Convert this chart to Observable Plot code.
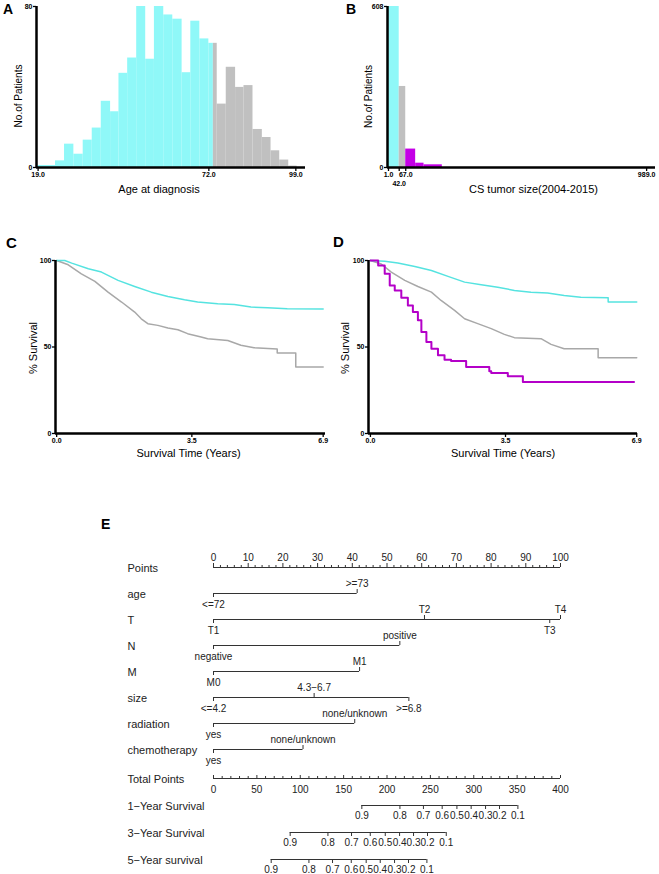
<!DOCTYPE html>
<html>
<head>
<meta charset="utf-8">
<script src="https://cdn.jsdelivr.net/npm/d3@7"></script>
<script src="https://cdn.jsdelivr.net/npm/@observablehq/plot@0.6"></script>
<style>
  body { margin: 0; background: #fff; }
  #root { position: relative; width: 659px; height: 874px; overflow: hidden; background: #fff; }
  .panel { position: absolute; }
  svg { overflow: visible; }
</style>
</head>
<body>
<div id="root"></div>
<script>
// ---------------- DATA ----------------
// Panel A: age histogram (bin edges in years, counts)
const ageEdges = [19, 24.4, 27.2, 30.1, 33.0, 35.8, 38.6, 41.5, 44.1, 46.8, 49.6, 52.4, 55.1, 58.0, 60.8, 63.7, 66.4, 69.2, 72.0, 74.6, 77.4, 80.3, 82.9, 85.7, 88.6, 91.3, 94.0, 96.8, 99.4];
const ageCounts = [1, 3.3, 11.6, 6.6, 13.6, 19.6, 32.9, 27.7, 46.8, 54.4, 86, 53.8, 86, 75.8, 73.7, 47.1, 72.7, 63.9, 61.7, 31.5, 49.8, 39.8, 40.7, 18.9, 14.9, 8.3, 3.7, 0.7];
const ageCut = 73.4;
const ageTicks = [19, 72, 99];
const ageYTicks = [0, 80];

// Panel B: tumor size histogram
const sizeEdges = [1, 42, 67, 105, 137, 207];
const sizeCounts = [608, 306, 69.6, 16.3, 10.2];
const sizeGroups = ["small", "mid", "large", "large", "large"];
const sizeTicks = [1, 67, 989];
const sizeTickLow = [42];
const sizeYTicks = [0, 608];

// Panel C: survival by age group  [time (years), % survival]
const cCyan = [[0,100],[0.21,100],[0.39,98.5],[0.82,95.2],[1.16,93.3],[1.59,88.5],[2.02,85],[2.45,81.7],[2.88,79.2],[3.31,77.3],[3.65,76],[4.17,75],[4.6,74.6],[5.03,73.1],[5.46,72.7],[5.97,72.1],[6.9,71.9]];
const cGrey = [[0,100],[0.3,97.5],[0.64,92.3],[0.99,87.9],[1.33,81.7],[1.68,76],[2.02,70.2],[2.19,66.3],[2.36,63.5],[2.62,62.5],[2.88,61],[3.14,60],[3.39,57.7],[3.74,55.8],[3.91,54.8],[4.43,53.8],[4.77,51],[5.11,49.6],[5.71,48.8],[5.71,46.5],[6.19,46.5],[6.19,38.5],[6.9,38.5]];

// Panel D: survival by tumor size group
const dCyan = [[0,100],[0.37,99.6],[0.71,98.5],[1.15,96.5],[1.58,94.2],[2.01,90.8],[2.44,87.5],[2.87,86],[3.3,84.6],[3.73,82.7],[4.16,81.7],[4.59,81.2],[5.02,79.8],[5.45,78.8],[6.16,78.5],[6.16,76],[6.9,76]];
const dGrey = [[0,100],[0.28,98],[0.54,93.3],[0.89,88.5],[1.23,85],[1.58,81.7],[1.83,76.9],[2.18,71.2],[2.44,66.3],[2.78,63.5],[3.13,60.6],[3.47,57.3],[3.73,55.4],[4.42,54.8],[4.68,51.5],[5.02,49],[5.9,49],[5.9,43.8],[6.9,43.8]];
const dMagenta = [[0,100],[0.2,97.1],[0.37,92.3],[0.5,85.6],[0.63,82.7],[0.8,78.5],[0.97,74],[1.1,70.2],[1.23,65.4],[1.32,58.7],[1.45,52.9],[1.58,49],[1.75,45.2],[1.92,42.7],[2.09,41.9],[2.48,38.5],[3.08,36],[3.13,35],[3.56,33.1],[3.95,29.8],[6.83,29.8]];
const survXTicks = [0, 3.5, 6.9];
const survYTicks = [0, 50, 100];

// Panel E: nomogram
const nomoRows = ["Points", "age", "T", "N", "M", "size", "radiation", "chemotherapy"];
const varNames = ["age", "T", "N", "M", "size", "radiation", "chemotherapy"];
const varLevels = [["<=72", ">=73"], ["T1", "T2", "T3", "T4"], ["negative", "positive"], ["M0", "M1"], ["<=4.2", "4.3\u22126.7", ">=6.8"], ["yes", "none/unknown"], ["yes", "none/unknown"]];
const varPoints = [[0, 41.4], [0, 60.8, 96.9, 100], [0, 53.7], [0, 42.1], [0, 29.0, 56.3], [0, 40.7], [0, 25.8]];
const pointsMajor = [0, 10, 20, 30, 40, 50, 60, 70, 80, 90, 100];
const pointsMinor = [2,4,6,8,12,14,16,18,22,24,26,28,32,34,36,38,42,44,46,48,52,54,56,58,62,64,66,68,72,74,76,78,82,84,86,88,92,94,96,98];

const lowerRows = ["Total Points", "1\u2212Year Survival", "3\u2212Year Survival", "5\u2212Year survival"];
const totalMajor = [0, 50, 100, 150, 200, 250, 300, 350, 400];
const totalMinor = [10,20,30,40,60,70,80,90,110,120,130,140,160,170,180,190,210,220,230,240,260,270,280,290,310,320,330,340,360,370,380,390];
const survProbs = ["0.9", "0.8", "0.7", "0.6", "0.5", "0.4", "0.3", "0.2", "0.1"];
const surv1Year = [171, 214.9, 242, 263.6, 280.6, 297, 313.6, 329.7, 350.9];
const surv3Year = [88.4, 131.9, 159.1, 180.7, 198, 214.5, 230.6, 246.7, 268.3];
const surv5Year = [66.5, 110, 137.2, 158.8, 176, 192.2, 208.7, 224.8, 246];

// ---------------- STYLE ----------------
const CYAN_FILL = "#8ff8f8", GREY_FILL = "#c0c0c0", MAG_FILL = "#c400e6";
const CYAN_LINE = "#55e3e0", GREY_LINE = "#a8a8a8", MAG_LINE = "#b400c8";
const FONT = "'Liberation Sans', Arial, Helvetica, sans-serif";
const root = document.getElementById("root");

function place(node, left, top) {
  const div = document.createElement("div");
  div.className = "panel";
  div.style.left = left + "px";
  div.style.top = top + "px";
  div.appendChild(node);
  root.appendChild(div);
}

function prismAxes(xDomMin, xTicks, yTicks, xFmt) {
  return [
    Plot.ruleY([0], {strokeWidth: 2.5, stroke: "#000"}),
    Plot.ruleX([xDomMin], {strokeWidth: 2.5, stroke: "#000"}),
    Plot.axisY({ticks: yTicks, tickFormat: d => String(d), tickSize: 3, tickPadding: 1, fontSize: 7, fontWeight: "bold", strokeWidth: 1.3, label: null}),
    Plot.axisX({ticks: xTicks, tickFormat: xFmt, tickSize: 4, tickPadding: 1, fontSize: 7, fontWeight: "bold", strokeWidth: 1.3, label: null})
  ];
}

// ---------------- PANEL A ----------------
const ageRects = [];
ageCounts.forEach((n, i) => {
  const a = ageEdges[i], b = ageEdges[i + 1];
  if (a < ageCut && b > ageCut) {
    ageRects.push({x1: a, x2: ageCut, n, g: "lo"}, {x1: ageCut, x2: b, n, g: "hi"});
  } else {
    ageRects.push({x1: a, x2: b, n, g: b <= ageCut ? "lo" : "hi"});
  }
});
const A = Plot.plot({
  width: 320, height: 200, marginLeft: 36, marginRight: 15, marginTop: 6, marginBottom: 33,
  style: {fontFamily: FONT, background: "transparent", color: "#000"},
  x: {domain: [18.5, 102], axis: null},
  y: {domain: [0, 80], axis: null},
  marks: [
    Plot.rect(ageRects, {x1: "x1", x2: "x2", y1: 0, y2: "n", fill: d => d.g === "lo" ? CYAN_FILL : GREY_FILL, clip: true}),
    ...prismAxes(18.5, ageTicks, ageYTicks, d3.format(".1f")),
    Plot.text(["No.of Patients"], {frameAnchor: "left", rotate: -90, dx: -18, dy: 9, fontSize: 10, textAnchor: "middle", lineAnchor: "middle"}),
    Plot.text(["Age at diagnosis"], {frameAnchor: "bottom", dx: -12, dy: 22, fontSize: 11, textAnchor: "middle", lineAnchor: "middle"})
  ]
});
place(A, 0, 0);

// ---------------- PANEL B ----------------
const sizeRects = sizeCounts.map((n, i) => ({x1: sizeEdges[i], x2: sizeEdges[i + 1], n, g: sizeGroups[i]}));
const sizeColor = {small: CYAN_FILL, mid: GREY_FILL, large: MAG_FILL};
const B = Plot.plot({
  width: 339, height: 200, marginLeft: 67, marginRight: 4, marginTop: 6, marginBottom: 33,
  style: {fontFamily: FONT, background: "transparent", color: "#000"},
  x: {domain: [-2.8, 1023], axis: null},
  y: {domain: [0, 608], axis: null},
  marks: [
    Plot.rect(sizeRects, {x1: "x1", x2: "x2", y1: 0, y2: "n", fill: d => sizeColor[d.g]}),
    ...prismAxes(-2.8, sizeTicks, sizeYTicks, d3.format(".1f")),
    Plot.axisX({ticks: sizeTickLow, tickFormat: () => "", tickSize: 4, strokeWidth: 1.3, label: null}),
    Plot.text(sizeTickLow, {x: d => d, frameAnchor: "bottom", dy: 16, text: d => d3.format(".1f")(d), fontSize: 7, fontWeight: "bold", lineAnchor: "middle"}),
    Plot.text(["No.of Patients"], {frameAnchor: "left", rotate: -90, dx: -19, dy: 9.5, fontSize: 10, textAnchor: "middle", lineAnchor: "middle"}),
    Plot.text(["CS tumor size(2004-2015)"], {frameAnchor: "bottom", dx: 12, dy: 22, fontSize: 11, textAnchor: "middle", lineAnchor: "middle"})
  ]
});
place(B, 320, 0);

// ---------------- PANEL C ----------------
const C = Plot.plot({
  width: 330, height: 250, marginLeft: 55, marginRight: 5, marginTop: 40, marginBottom: 37,
  style: {fontFamily: FONT, background: "transparent", color: "#000"},
  x: {domain: [-0.03, 6.96], axis: null},
  y: {domain: [0, 100], axis: null},
  marks: [
    Plot.line(cGrey, {x: d => d[0], y: d => d[1], stroke: GREY_LINE, strokeWidth: 1.5}),
    Plot.line(cCyan, {x: d => d[0], y: d => d[1], stroke: CYAN_LINE, strokeWidth: 1.5}),
    ...prismAxes(-0.03, survXTicks, survYTicks, d3.format(".1f")),
    Plot.text(["% Survival"], {frameAnchor: "left", rotate: -90, dx: -22.5, dy: 1, fontSize: 11, textAnchor: "middle", lineAnchor: "middle"}),
    Plot.text(["Survival Time (Years)"], {frameAnchor: "bottom", dx: -2, dy: 20, fontSize: 11, textAnchor: "middle", lineAnchor: "middle"})
  ]
});
place(C, 0, 220);

// ---------------- PANEL D ----------------
const D = Plot.plot({
  width: 329, height: 250, marginLeft: 38, marginRight: 22, marginTop: 40, marginBottom: 37,
  style: {fontFamily: FONT, background: "transparent", color: "#000"},
  x: {domain: [-0.05, 6.92], axis: null},
  y: {domain: [0, 100], axis: null},
  marks: [
    Plot.line(dGrey, {x: d => d[0], y: d => d[1], stroke: GREY_LINE, strokeWidth: 1.5}),
    Plot.line(dCyan, {x: d => d[0], y: d => d[1], stroke: CYAN_LINE, strokeWidth: 1.5}),
    Plot.line(dMagenta, {x: d => d[0], y: d => d[1], stroke: MAG_LINE, strokeWidth: 2, curve: "step-after"}),
    ...prismAxes(-0.05, survXTicks, survYTicks, d3.format(".1f")),
    Plot.text(["% Survival"], {frameAnchor: "left", rotate: -90, dx: -23, dy: 1, fontSize: 11, textAnchor: "middle", lineAnchor: "middle"}),
    Plot.text(["Survival Time (Years)"], {frameAnchor: "bottom", dx: 0, dy: 20, fontSize: 11, textAnchor: "middle", lineAnchor: "middle"})
  ]
});
place(D, 330, 220);

// ---------------- PANEL E (nomogram) ----------------
const levels = varNames.flatMap((v, i) => varLevels[i].map((lab, j) => ({row: v, label: lab, pts: varPoints[i][j], above: j % 2 === 1})));
const ranges = varNames.map((v, i) => ({row: v, max: d3.max(varPoints[i])}));
const LINE = "#333", TXT = "#222";

const E1 = Plot.plot({
  width: 659, height: 230, marginLeft: 213, marginRight: 99, marginTop: 24, marginBottom: 19,
  style: {fontFamily: FONT, background: "transparent", color: TXT},
  x: {domain: [0, 100], axis: null},
  y: {type: "point", domain: nomoRows, padding: 0, axis: null},
  marks: [
    Plot.text(nomoRows, {y: d => d, frameAnchor: "left", dx: -86, dy: 1, textAnchor: "start", fontSize: 11, fill: TXT}),
    Plot.ruleY(["Points"], {y: d => d, x1: 0, x2: 100, stroke: LINE}),
    Plot.ruleX(pointsMajor, {x: d => d, y1: () => "Points", y2: () => "Points", insetTop: -4, stroke: LINE}),
    Plot.ruleX(pointsMinor, {x: d => d, y1: () => "Points", y2: () => "Points", insetTop: -2, stroke: LINE}),
    Plot.text(pointsMajor, {x: d => d, y: () => "Points", dy: -10, text: d => String(d), fontSize: 10, fill: TXT}),
    Plot.ruleY(ranges, {y: "row", x1: 0, x2: "max", stroke: LINE}),
    Plot.ruleX(levels.filter(d => d.above), {x: "pts", y1: "row", y2: "row", insetTop: -4, stroke: LINE}),
    Plot.ruleX(levels.filter(d => !d.above), {x: "pts", y1: "row", y2: "row", insetBottom: -4, stroke: LINE}),
    Plot.text(levels.filter(d => d.above), {x: "pts", y: "row", text: "label", dy: -10, fontSize: 10, fill: TXT}),
    Plot.text(levels.filter(d => !d.above), {x: "pts", y: "row", text: "label", dy: 11.5, fontSize: 10, fill: TXT})
  ]
});
place(E1, 0, 540);

const survRows = [
  {row: lowerRows[1], tp: surv1Year},
  {row: lowerRows[2], tp: surv3Year},
  {row: lowerRows[3], tp: surv5Year}
];
const survTicks = survRows.flatMap(r => r.tp.map((tp, j) => ({row: r.row, tp, label: survProbs[j]})));
const survRanges = survRows.map(r => ({row: r.row, min: d3.min(r.tp), max: d3.max(r.tp)}));

const E2 = Plot.plot({
  width: 659, height: 114, marginLeft: 213, marginRight: 99, marginTop: 18, marginBottom: 15,
  style: {fontFamily: FONT, background: "transparent", color: TXT},
  x: {domain: [0, 400], axis: null},
  y: {type: "point", domain: lowerRows, padding: 0, axis: null},
  marks: [
    Plot.text(lowerRows, {y: d => d, frameAnchor: "left", dx: -86, dy: 1, textAnchor: "start", fontSize: 11, fill: TXT}),
    Plot.ruleY([lowerRows[0]], {y: d => d, x1: 0, x2: 400, stroke: LINE}),
    Plot.ruleX(totalMajor, {x: d => d, y1: () => lowerRows[0], y2: () => lowerRows[0], insetTop: -3, stroke: LINE}),
    Plot.ruleX(totalMinor, {x: d => d, y1: () => lowerRows[0], y2: () => lowerRows[0], insetTop: -2, stroke: LINE}),
    Plot.text(totalMajor, {x: d => d, y: () => lowerRows[0], dy: 11, text: d => String(d), fontSize: 10, fill: TXT}),
    Plot.ruleY(survRanges, {y: "row", x1: "min", x2: "max", stroke: LINE}),
    Plot.ruleX(survTicks, {x: "tp", y1: "row", y2: "row", insetBottom: -4, stroke: LINE}),
    Plot.text(survTicks, {x: "tp", y: "row", text: "label", dy: 10.5, fontSize: 10, fill: TXT})
  ]
});
place(E2, 0, 760);

// ---------------- PANEL LETTERS ----------------
const letters = [
  {t: "A", x: 3, y: 14, s: 14},
  {t: "B", x: 346, y: 14, s: 14},
  {t: "C", x: 6, y: 248, s: 15},
  {t: "D", x: 333, y: 247, s: 15},
  {t: "E", x: 101, y: 529, s: 14}
];
const overlay = d3.create("svg").attr("width", 659).attr("height", 874)
  .style("position", "absolute").style("left", 0).style("top", 0).style("pointer-events", "none");
overlay.selectAll("text").data(letters).join("text")
  .attr("x", d => d.x).attr("y", d => d.y)
  .attr("font-family", FONT).attr("font-weight", "bold").attr("font-size", d => d.s)
  .text(d => d.t);
root.appendChild(overlay.node());
</script>
</body>
</html>
